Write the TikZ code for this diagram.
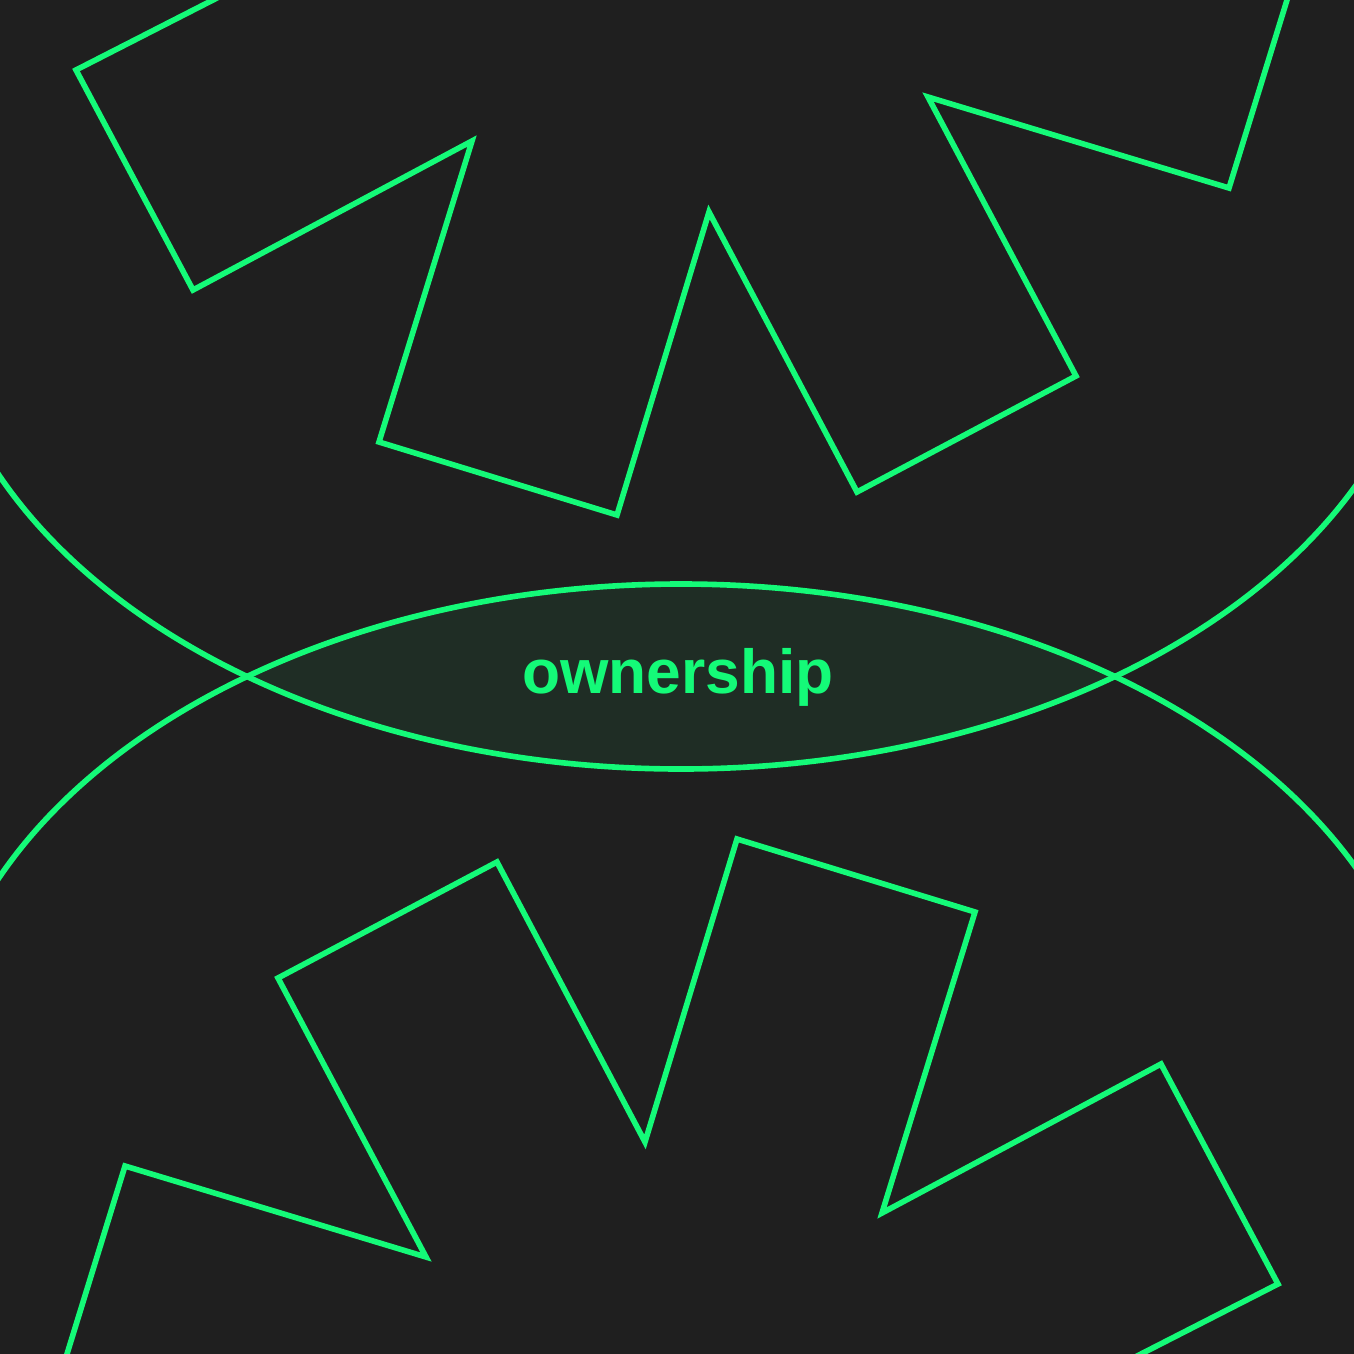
\documentclass[tikz,border=0pt]{standalone}
\usepackage{fontspec}
\setmainfont{Liberation Sans}
\usepackage{tikz}
\definecolor{bg}{HTML}{1F1F1F}
\definecolor{neon}{HTML}{14FA78}
\definecolor{lensfill}{HTML}{1F2D25}
\def\teeth{(350,-70) -- (76,70) -- (193,290) -- (472,141) -- (379,442) -- (617,515) -- (709,212) -- (857,492) -- (1076,376) -- (928,97) -- (1229,188) -- (1316,-94)}
\def\topoval{(681,270) ellipse (748 and 499)}
\def\botoval{(681,1083) ellipse (748 and 499)}
\def\dneon{\draw[neon,line width=1.6pt]}

\begin{document}
\begin{tikzpicture}[x=0.01cm,y=-0.01cm]
    \useasboundingbox (0,0) rectangle (1354,1354);
    \fill[bg] (0,0) rectangle (1354,1354);
    \clip (0,0) rectangle (1354,1354);
    \begin{scope}
        \clip \topoval;
        \fill[lensfill] \botoval;
    \end{scope}
    % only the arcs that face the lens
    \dneon (1429,270) arc (0:180:748 and 499);
    \dneon (-67,1083) arc (180:360:748 and 499);
    \dneon \teeth;
    \dneon[rotate around={180:(677,677)}] \teeth;
    \node[neon,font=\bfseries\fontsize{17.7}{18}\selectfont,anchor=base] (word) at (678,693) {ownership};
\end{tikzpicture}
\end{document}
